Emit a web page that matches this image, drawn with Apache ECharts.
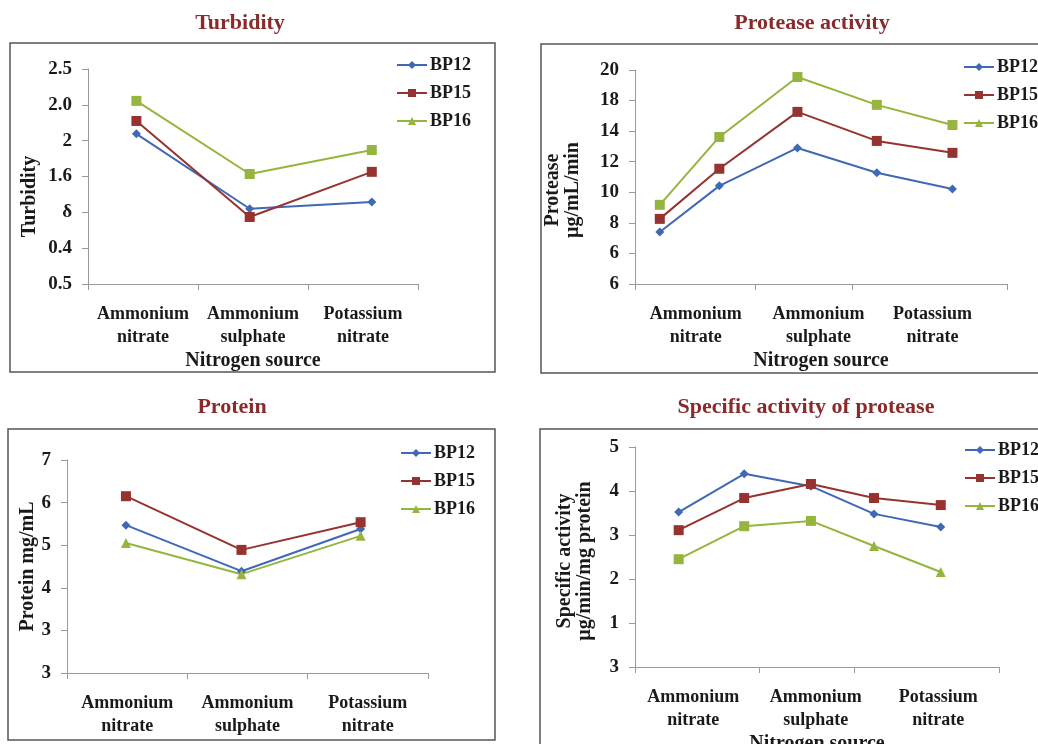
<!DOCTYPE html>
<html><head><meta charset="utf-8">
<script src="https://cdn.jsdelivr.net/npm/echarts@6/dist/echarts.min.js"></script>
<style>html,body{margin:0;padding:0;background:#fff}#c{width:1038px;height:744px}</style>
</head><body><div id="c"></div>
<script>
// ---------- data ----------
const seriesNames = ['BP12', 'BP15', 'BP16'];
const categories = ['Ammonium\nnitrate', 'Ammonium\nsulphate', 'Potassium\nnitrate'];

// Turbidity (values in tick-step units, labels as printed)
const turbTicks = ['0.5', '0.4', 'δ', '1.6', '2', '2.0', '2.5'];
const turbX = [0.44, 1.47, 2.58];
const turbBP12 = [4.19, 2.10, 2.29];
const turbBP15 = [4.55, 1.87, 3.13];
const turbBP16 = [5.11, 3.07, 3.74];

// Protease activity
const protTicks = ['6', '6', '8', '10', '12', '14', '18', '20'];
const protX = [0.20, 0.68, 1.31, 1.95, 2.56];
const protBP12 = [1.70, 3.21, 4.45, 3.64, 3.11];
const protBP15 = [2.13, 3.77, 5.63, 4.68, 4.29];
const protBP16 = [2.59, 4.81, 6.77, 5.86, 5.20];
const protCatTicks = [0, 0.97, 1.75, 3];
const protCatPos = [0.49, 1.48, 2.40];

// Protein
const protnTicks = ['3', '3', '4', '5', '6', '7'];
const protnX = [0.49, 1.45, 2.44];
const protnBP12 = [3.47, 2.39, 3.38];
const protnBP15 = [4.15, 2.89, 3.54];
const protnBP16 = [3.05, 2.32, 3.22];

// Specific activity of protease
const specTicks = ['3', '1', '2', '3', '4', '5'];
const specX = [0.36, 0.90, 1.45, 1.97, 2.52];
const specBP12 = [3.52, 4.39, 4.11, 3.48, 3.18];
const specBP15 = [3.11, 3.84, 4.16, 3.84, 3.68];
const specBP16 = [2.45, 3.20, 3.32, 2.75, 2.16];
const specCatTicks = [0, 1.02, 1.81, 3];
const specCatPos = [0.48, 1.49, 2.50];

const evenCatTicks = [0, 1, 2, 3];
const evenCatPos = [0.5, 1.5, 2.5];

// ---------- styles ----------
const FONT = "'Liberation Serif', 'Times New Roman', serif";
const TXT = '#1a1a1a';
const colors = ['#3f68b5', '#963330', '#96b53e'];
const baseSymbols = ['diamond', 'rect', 'triangle'];
const baseSizes = [9, 10, 10];
const axisGray = '#9a9a9a';

const panels = [
  {title: 'Turbidity', tx: 240, ty: 21, grid: {left: 88, top: 69, width: 330, height: 215},
   ymax: 6, ticks: turbTicks, x: turbX, ys: [turbBP12, turbBP15, turbBP16],
   catTicks: evenCatTicks, catPos: evenCatPos, yName: 'Turbidity', yGap: 48, yPad: [0, 40, 0, 0], xName: 'Nitrogen source',
   g16sym: ['rect', 'rect', 'rect'], legend: {left: 391, top: 51}},
  {title: 'Protease activity', tx: 812, ty: 21, grid: {left: 635, top: 70, width: 372, height: 214},
   ymax: 7, ticks: protTicks, x: protX, ys: [protBP12, protBP15, protBP16],
   catTicks: protCatTicks, catPos: protCatPos, yName: 'Protease\nµg/mL/min', yGap: 52, yPad: [0, 26, 0, 0], xName: 'Nitrogen source',
   g16sym: ['rect', 'rect', 'rect', 'rect', 'rect'], legend: {left: 958, top: 53}},
  {title: 'Protein', tx: 232, ty: 405, grid: {left: 67, top: 460, width: 361, height: 213},
   ymax: 5, ticks: protnTicks, x: protnX, ys: [protnBP12, protnBP15, protnBP16],
   catTicks: evenCatTicks, catPos: evenCatPos, yName: 'Protein mg/mL', yGap: 28, yPad: [0, 0, 0, 0], xName: '',
   g16sym: null, legend: {left: 395, top: 439}},
  {title: 'Specific activity of protease', tx: 806, ty: 405, grid: {left: 635, top: 447, width: 364, height: 220},
   ymax: 5, ticks: specTicks, x: specX, ys: [specBP12, specBP15, specBP16],
   catTicks: specCatTicks, catPos: specCatPos, yName: 'Specific activity\nµg/min/mg protein', yGap: 40, yPad: [0, 8, 0, 0], xName: 'Nitrogen source',
   g16sym: ['rect', 'rect', 'rect', 'triangle', 'triangle'], legend: {left: 959, top: 436}}
];

const option = {
  animation: false,
  backgroundColor: '#ffffff',
  title: [], grid: [], xAxis: [], yAxis: [], series: [], legend: [],
  graphic: [
    {type: 'rect', shape: {x: 10, y: 43, width: 485, height: 329}, style: {fill: 'none', stroke: '#555', lineWidth: 1.5}, silent: true, z: -1},
    {type: 'rect', shape: {x: 541, y: 44, width: 540, height: 329}, style: {fill: 'none', stroke: '#555', lineWidth: 1.5}, silent: true, z: -1},
    {type: 'rect', shape: {x: 8, y: 429, width: 487, height: 311}, style: {fill: 'none', stroke: '#555', lineWidth: 1.5}, silent: true, z: -1},
    {type: 'rect', shape: {x: 540, y: 429, width: 540, height: 340}, style: {fill: 'none', stroke: '#555', lineWidth: 1.5}, silent: true, z: -1}
  ]
};

panels.forEach((p, i) => {
  option.title.push({
    text: p.title, left: p.tx - 5, top: p.ty - 3, textAlign: 'center', textVerticalAlign: 'middle',
    textStyle: {fontFamily: FONT, fontSize: 22, fontWeight: 'bold', color: '#8a2b2b'}
  });
  option.grid.push(Object.assign({containLabel: false, outerBoundsMode: 'none'}, p.grid));
  option.xAxis.push({
    type: 'value', gridIndex: i, min: 0, max: 3,
    name: p.xName, nameLocation: 'middle', nameGap: 67,
    nameTextStyle: {fontFamily: FONT, fontSize: 20, fontWeight: 'bold', color: TXT},
    axisLine: {show: true, lineStyle: {color: axisGray, width: 1}},
    axisTick: {show: true, length: 6, lineStyle: {color: axisGray}, customValues: p.catTicks},
    axisLabel: {
      customValues: p.catPos, margin: 19, lineHeight: 23,
      fontFamily: FONT, fontSize: 18, fontWeight: 'bold', color: TXT,
      formatter: (v) => {
        let best = 0;
        p.catPos.forEach((c, k) => { if (Math.abs(c - v) < Math.abs(p.catPos[best] - v)) best = k; });
        return categories[best];
      }
    },
    splitLine: {show: false}
  });
  option.yAxis.push({
    type: 'value', gridIndex: i, min: 0, max: p.ymax, interval: 1,
    name: p.yName, nameLocation: 'middle', nameGap: p.yGap, nameRotate: 90,
    nameTextStyle: {fontFamily: FONT, fontSize: 20, fontWeight: 'bold', color: TXT, lineHeight: 20, padding: p.yPad},
    axisLine: {show: true, lineStyle: {color: axisGray, width: 1}},
    axisTick: {show: true, length: 6, lineStyle: {color: axisGray}},
    axisLabel: {
      margin: 16, fontFamily: FONT, fontSize: 19, fontWeight: 'bold', color: TXT,
      formatter: (v) => p.ticks[Math.round(v)]
    },
    splitLine: {show: false}
  });
  seriesNames.forEach((name, s) => {
    const data = p.x.map((xv, k) => {
      const item = {value: [xv, p.ys[s][k]]};
      if (s === 2 && p.g16sym) item.symbol = p.g16sym[k];
      return item;
    });
    option.series.push({
      type: 'line', name: name, xAxisIndex: i, yAxisIndex: i,
      data: data, symbol: baseSymbols[s], symbolSize: baseSizes[s],
      lineStyle: {color: colors[s], width: 2},
      itemStyle: {color: colors[s]},
      emphasis: {disabled: true}
    });
  });
  option.legend.push({
    data: seriesNames, orient: 'vertical', left: p.legend.left, top: p.legend.top,
    itemWidth: 30, itemHeight: 10, itemGap: 10,
    textStyle: {fontFamily: FONT, fontSize: 18, fontWeight: 'bold', color: TXT, padding: [0, 0, 0, -2]},
    selectedMode: false
  });
});

const chart = echarts.init(document.getElementById('c'), null, {renderer: 'canvas'});
chart.setOption(option);
</script>
</body></html>
